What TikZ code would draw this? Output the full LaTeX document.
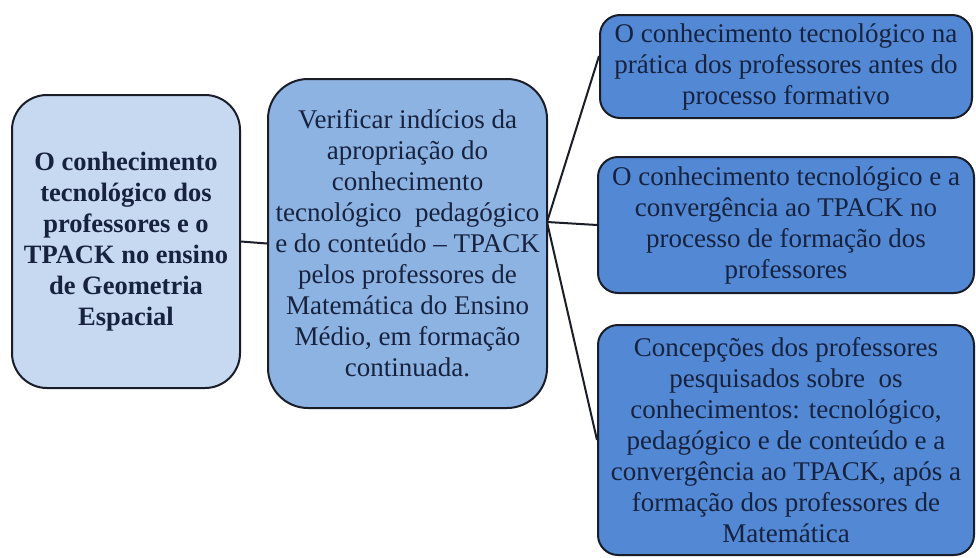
\documentclass[tikz,border=0pt]{standalone}
\usepackage{fontspec}
\setmainfont{Liberation Serif}
\usetikzlibrary{calc}
\definecolor{lightbox}{HTML}{C6D9F1}
\definecolor{midbox}{HTML}{8DB3E2}
\definecolor{darkbox}{HTML}{5288D4}
\definecolor{txt}{HTML}{17223F}
\definecolor{edge}{HTML}{1A1D28}
\tikzset{
  box/.style={draw=edge, line width=2pt, align=center, inner sep=0pt, text=txt,
    font=\fontsize{27}{31}\selectfont},
  conn/.style={draw=edge, line width=2pt}
}
\begin{document}
\begin{tikzpicture}[x=1pt,y=-1pt]
\useasboundingbox (0,0) rectangle (976,557);
\node[box, fill=lightbox, rounded corners=35pt, minimum width=228pt, minimum height=293pt,
  font=\fontsize{26.5}{31}\selectfont\bfseries] (left) at (126,241.5)
  {O conhecimento\\tecnológico dos\\professores e o\\TPACK no ensino\\de Geometria\\Espacial};
\node[box, fill=midbox, rounded corners=40pt, minimum width=279pt, minimum height=329pt] (mid) at (407.5,243.5)
  {Verificar indícios da\\apropriação do\\conhecimento\\tecnológico\ \ pedagógico\\e do conteúdo -- TPACK\\pelos professores de\\Matemática do Ensino\\Médio, em formação\\continuada.};
\node[box, fill=darkbox, rounded corners=20pt, minimum width=372pt, minimum height=103pt] (top) at (786,66.5)
  {O conhecimento tecnológico na\\prática dos professores antes do\\processo formativo};
\node[box, fill=darkbox, rounded corners=20pt, minimum width=376pt, minimum height=136pt] (midr) at (786,225)
  {O conhecimento tecnológico e a\\convergência ao TPACK no\\processo de formação dos\\professores};
\node[box, fill=darkbox, rounded corners=20pt, minimum width=376pt, minimum height=230pt] (bot) at (786,440)
  {Concepções dos professores\\pesquisados sobre\ \ os\\conhecimentos: tecnológico,\\pedagógico e de conteúdo e a\\convergência ao TPACK,\ após a\\formação dos professores de\\Matemática};
\coordinate (J) at (547,222);
\draw[conn] (left.east) -- (mid.west);
\draw[conn] (J) -- ($(top.north west)!0.4!(top.south west)$);
\draw[conn] (J) -- (midr.west);
\draw[conn] (J) -- (bot.west);
\end{tikzpicture}
\end{document}
